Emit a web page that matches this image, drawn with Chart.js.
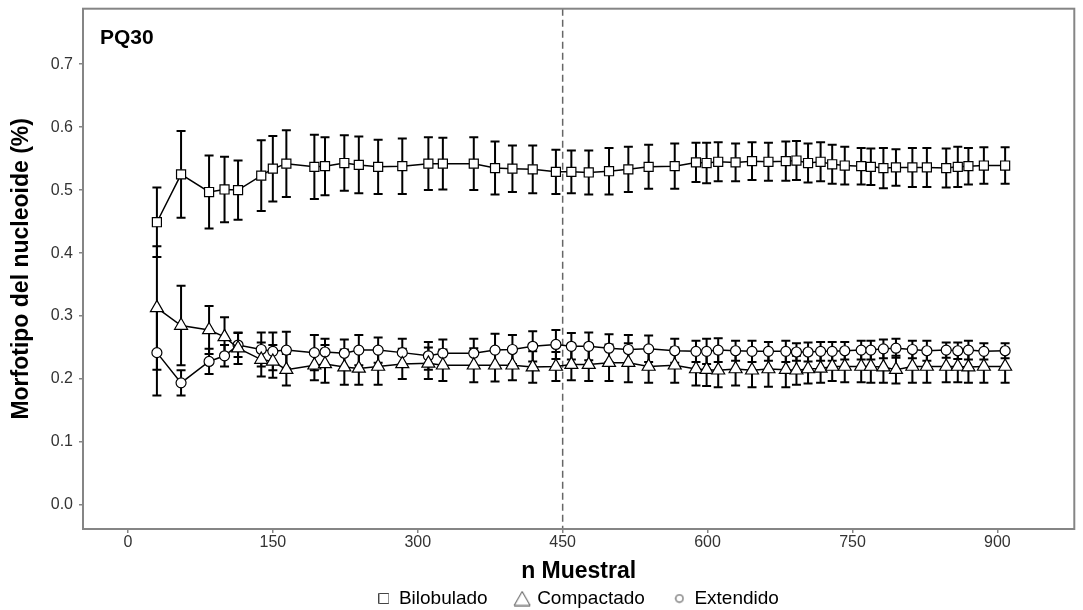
<!DOCTYPE html>
<html>
<head>
<meta charset="utf-8">
<script src="https://cdn.jsdelivr.net/npm/chart.js@4.4.1/dist/chart.umd.min.js"></script>
<style>
  html, body { margin: 0; padding: 0; background: #fff; }
  #wrap { width: 1083px; height: 610px; }
</style>
</head>
<body>
<div id="wrap"><canvas id="c" width="1083" height="610"></canvas></div>
<script>
// ---- data ----
const nMuestral = [30,55,84,100,114,138,150,164,193,204,224,239,259,284,311,326,358,380,398,419,443,459,477,498,518,539,566,588,599,611,629,646,663,681,692,704,717,729,742,759,769,782,795,812,827,847,859,870,886,908];

const bilobulado = [0.449,0.525,0.497,0.501,0.500,0.523,0.534,0.542,0.537,0.538,0.543,0.540,0.537,0.538,0.542,0.542,0.542,0.535,0.534,0.533,0.529,0.529,0.528,0.530,0.533,0.537,0.538,0.544,0.543,0.545,0.544,0.546,0.545,0.546,0.547,0.543,0.545,0.541,0.539,0.538,0.537,0.535,0.536,0.536,0.536,0.535,0.537,0.538,0.539,0.539];
const bilobuladoErr = [0.055,0.069,0.058,0.052,0.047,0.056,0.052,0.053,0.051,0.046,0.044,0.045,0.043,0.044,0.042,0.041,0.042,0.042,0.037,0.038,0.035,0.034,0.035,0.037,0.036,0.035,0.036,0.031,0.032,0.031,0.030,0.030,0.030,0.031,0.031,0.031,0.031,0.031,0.030,0.029,0.029,0.032,0.029,0.031,0.031,0.031,0.032,0.029,0.029,0.029];

const compactado = [0.313,0.285,0.278,0.267,0.249,0.231,0.228,0.215,0.222,0.224,0.219,0.217,0.220,0.224,0.225,0.222,0.222,0.222,0.222,0.219,0.220,0.223,0.223,0.226,0.226,0.220,0.222,0.216,0.215,0.214,0.216,0.214,0.216,0.215,0.214,0.216,0.217,0.220,0.220,0.220,0.220,0.219,0.215,0.220,0.220,0.220,0.220,0.219,0.220,0.220];
const compactadoErr = [0.098,0.063,0.038,0.031,0.025,0.027,0.026,0.025,0.024,0.030,0.028,0.026,0.029,0.024,0.025,0.025,0.027,0.026,0.024,0.025,0.023,0.025,0.026,0.029,0.031,0.026,0.028,0.026,0.026,0.027,0.026,0.027,0.028,0.028,0.023,0.023,0.023,0.023,0.025,0.025,0.026,0.025,0.022,0.026,0.026,0.025,0.025,0.025,0.026,0.026];

const extendido = [0.242,0.194,0.228,0.237,0.254,0.247,0.244,0.246,0.242,0.243,0.241,0.246,0.246,0.242,0.237,0.241,0.241,0.246,0.247,0.252,0.255,0.252,0.252,0.249,0.247,0.248,0.245,0.244,0.244,0.246,0.245,0.244,0.244,0.244,0.243,0.243,0.244,0.244,0.245,0.246,0.246,0.248,0.249,0.247,0.245,0.246,0.245,0.246,0.244,0.245];
const extendidoErr = [0.068,0.020,0.020,0.017,0.019,0.027,0.030,0.029,0.028,0.021,0.022,0.024,0.020,0.022,0.022,0.022,0.023,0.026,0.023,0.024,0.023,0.021,0.022,0.022,0.023,0.021,0.019,0.017,0.020,0.019,0.016,0.017,0.015,0.017,0.014,0.015,0.015,0.015,0.014,0.015,0.015,0.015,0.015,0.014,0.016,0.012,0.013,0.015,0.013,0.012];

const seriesNames = ['Bilobulado', 'Compactado', 'Extendido'];
const xTicks = [0, 150, 300, 450, 600, 750, 900];
const yTicks = [0.0, 0.1, 0.2, 0.3, 0.4, 0.5, 0.6, 0.7];
const referenceN = 450;
const panelLabel = 'PQ30';

// ---- helpers ----
const FONT = "'Liberation Sans', Arial, Helvetica, sans-serif";
Chart.defaults.font.family = FONT;
const AXIS_GREY = '#858585';
const TEXT_GREY = '#333333';

function pts(ys) { return nMuestral.map((n, i) => ({ x: n, y: ys[i] })); }

function makeIcon(kind) {
  const c = document.createElement('canvas');
  const ctx = c.getContext('2d');
  if (kind === 'rect') {
    c.width = 11; c.height = 11;
  } else if (kind === 'triangle') {
    c.width = 18; c.height = 16;
  } else {
    c.width = 10; c.height = 10;
  }
  ctx.lineWidth = 1;
  ctx.strokeStyle = '#444';
  ctx.beginPath();
  if (kind === 'rect') {
    ctx.rect(0.5, 0.5, 10, 10);
  } else if (kind === 'triangle') {
    ctx.moveTo(9, 1); ctx.lineTo(17, 15); ctx.lineTo(1, 15); ctx.closePath();
  } else {
    ctx.arc(5, 5, 3.8, 0, Math.PI * 2);
  }
  ctx.stroke();
  return c;
}

const errorBars = {
  id: 'errorBars',
  beforeDatasetsDraw(chart) {
    const { ctx, scales: { x, y } } = chart;
    ctx.save();
    // reference dashed line
    const xr = x.getPixelForValue(referenceN);
    ctx.strokeStyle = '#666';
    ctx.lineWidth = 1.5;
    ctx.setLineDash([7, 4]);
    ctx.beginPath();
    ctx.moveTo(xr, chart.chartArea.top);
    ctx.lineTo(xr, chart.chartArea.bottom);
    ctx.stroke();
    ctx.setLineDash([]);
    // error bars
    ctx.strokeStyle = '#000';
    ctx.lineWidth = 2;
    chart.data.datasets.forEach(ds => {
      ds.data.forEach((p, i) => {
        const e = ds.errors[i];
        const px = x.getPixelForValue(p.x);
        const yt = y.getPixelForValue(p.y + e);
        const yb = y.getPixelForValue(p.y - e);
        ctx.beginPath();
        ctx.moveTo(px, yt); ctx.lineTo(px, yb);
        ctx.moveTo(px - 4.5, yt); ctx.lineTo(px + 4.5, yt);
        ctx.moveTo(px - 4.5, yb); ctx.lineTo(px + 4.5, yb);
        ctx.stroke();
      });
    });
    ctx.restore();
  },
  afterDraw(chart) {
    const { ctx, chartArea: a } = chart;
    ctx.save();
    ctx.strokeStyle = AXIS_GREY;
    ctx.lineWidth = 2;
    ctx.strokeRect(a.left, a.top, a.right - a.left, a.bottom - a.top);
    ctx.fillStyle = '#000';
    ctx.font = 'bold 21px ' + FONT;
    ctx.textBaseline = 'alphabetic';
    ctx.textAlign = 'left';
    ctx.fillText(panelLabel, a.left + 17, a.top + 35);
    ctx.restore();
  }
};

const icons = [makeIcon('rect'), makeIcon('triangle'), makeIcon('circle')];

const commonDs = {
  borderColor: '#000',
  borderWidth: 1.5,
  pointBorderColor: '#000',
  pointBackgroundColor: '#fff',
  pointBorderWidth: 1.2,
  fill: false,
  tension: 0
};

new Chart(document.getElementById('c'), {
  type: 'line',
  data: {
    datasets: [
      Object.assign({ label: seriesNames[0], data: pts(bilobulado), errors: bilobuladoErr, pointStyle: 'rect', pointRadius: 6.4 }, commonDs),
      Object.assign({ label: seriesNames[1], data: pts(compactado), errors: compactadoErr, pointStyle: 'triangle', pointRadius: 7.5 }, commonDs),
      Object.assign({ label: seriesNames[2], data: pts(extendido), errors: extendidoErr, pointStyle: 'circle', pointRadius: 5 }, commonDs)
    ]
  },
  options: {
    responsive: false,
    animation: false,
    layout: { padding: { top: 7, right: 8, left: 0, bottom: -8 } },
    plugins: {
      tooltip: { enabled: false },
      legend: {
        position: 'bottom',
        fullSize: false,
        labels: {
          usePointStyle: true,
          pointStyleWidth: 11,
          boxHeight: 11,
          padding: 29,
          color: '#000',
          font: { size: 19 },
          generateLabels(chart) {
            return chart.data.datasets.map((ds, i) => ({
              text: ds.label,
              pointStyle: icons[i],
              fillStyle: '#fff',
              strokeStyle: '#444',
              lineWidth: 1,
              hidden: false,
              datasetIndex: i
            }));
          }
        }
      }
    },
    scales: {
      x: {
        type: 'linear',
        min: -46.5,
        max: 979.6,
        afterBuildTicks(s) { s.ticks = xTicks.map(v => ({ value: v })); },
        afterFit(s) { s.height = 31; s.paddingLeft = 0; s.paddingRight = 0; },
        ticks: { font: { size: 16 }, color: TEXT_GREY, padding: 0, maxRotation: 0, autoSkip: false },
        grid: { display: true, drawOnChartArea: false, drawTicks: true, tickLength: 4, color: AXIS_GREY, lineWidth: 1.5 },
        border: { display: false },
        title: { display: true, text: 'n Muestral', color: '#000', font: { size: 23, weight: 'bold', lineHeight: 1 }, padding: { top: 0, bottom: -23 } }
      },
      y: {
        type: 'linear',
        min: -0.038,
        max: 0.788,
        afterBuildTicks(s) { s.ticks = yTicks.map(v => ({ value: v })); },
        afterFit(s) { s.width = 83; s.paddingTop = 0; s.paddingBottom = 0; },
        ticks: { font: { size: 16 }, color: TEXT_GREY, padding: 6, callback: v => Number(v).toFixed(1) },
        grid: { display: true, drawOnChartArea: false, drawTicks: true, tickLength: 4, color: AXIS_GREY, lineWidth: 1.5 },
        border: { display: false },
        title: { display: true, text: 'Morfotipo del nucleoide (%)', color: '#000', font: { size: 23, weight: 'bold', lineHeight: 1.2 }, padding: { top: 8, bottom: 0 } }
      }
    }
  },
  plugins: [errorBars]
});
</script>
</body>
</html>
